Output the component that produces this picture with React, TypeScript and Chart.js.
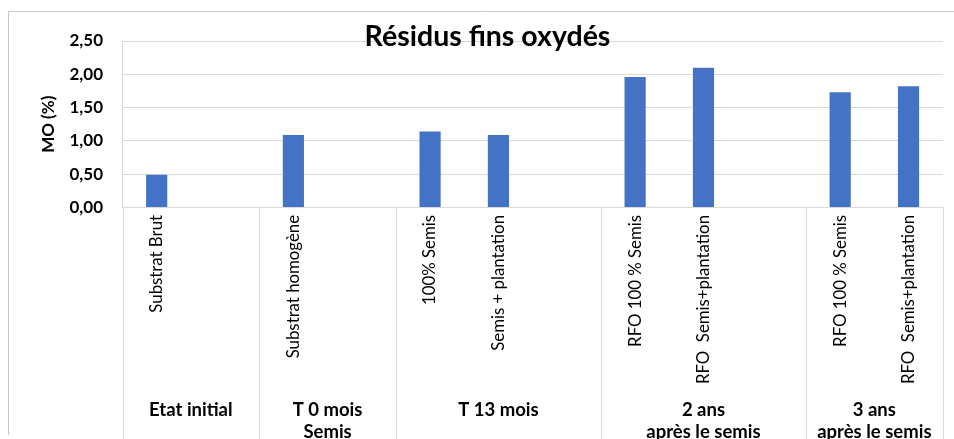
import React, { useEffect, useRef } from "react";
import { Chart, registerables } from "chart.js";

Chart.register(...registerables);

const categories = [
  "Substrat Brut",
  "",
  "Substrat homogène",
  "",
  "100% Semis",
  "Semis + plantation",
  "",
  "RFO 100 % Semis",
  "RFO  Semis+plantation",
  "",
  "RFO 100 % Semis",
  "RFO  Semis+plantation",
];
const moValues = [0.49, null, 1.09, null, 1.14, 1.09, null, 1.96, 2.1, null, 1.73, 1.82];
const yTickLabels = ["0,00", "0,50", "1,00", "1,50", "2,00", "2,50"];
const groupLabels = [
  ["Etat initial"],
  ["T 0 mois", "Semis"],
  ["T 13 mois"],
  ["2 ans", "après le semis"],
  ["3 ans", "après le semis"],
];
const groupStart = [0, 2, 4, 7, 10];
const groupEnd = [1, 3, 6, 9, 11];
const chartTitle = "Résidus fins oxydés";
const yAxisTitle = "MO (%)";

const FONT = "Lato";

const decorPlugin = {
  id: "decor",
  beforeDraw(chart: any) {
    const ctx = chart.ctx;
    ctx.save();
    ctx.strokeStyle = "#c8c8c8";
    ctx.lineWidth = 1;
    ctx.beginPath();
    ctx.moveTo(8.5, chart.height - 4);
    ctx.lineTo(8.5, 11.5);
    ctx.lineTo(chart.width, 11.5);
    ctx.stroke();
    ctx.restore();
  },
  afterDraw(chart: any) {
    const { ctx, chartArea, scales } = chart;
    const x = scales.x;
    const slot = x.getPixelForValue(1) - x.getPixelForValue(0);
    ctx.save();
    ctx.strokeStyle = "#d9d9d9";
    ctx.lineWidth = 1;
    const edges = [
      ...groupStart.map((s) => x.getPixelForValue(s) - slot / 2),
      x.getPixelForValue(groupEnd[groupEnd.length - 1]) + slot / 2,
    ];
    edges.forEach((e) => {
      const px = Math.round(e) + 0.5;
      ctx.beginPath();
      ctx.moveTo(px, chartArea.bottom);
      ctx.lineTo(px, chart.height);
      ctx.stroke();
    });
    ctx.fillStyle = "#000";
    ctx.font = `bold 18.5px ${FONT}`;
    ctx.textAlign = "center";
    ctx.textBaseline = "middle";
    groupLabels.forEach((lines, i) => {
      const cx = (x.getPixelForValue(groupStart[i]) + x.getPixelForValue(groupEnd[i])) / 2;
      lines.forEach((l, j) => ctx.fillText(l, cx, chartArea.bottom + 202.5 + j * 21.7));
    });
    ctx.font = `bold 28.5px ${FONT}`;
    ctx.textBaseline = "alphabetic";
    ctx.fillText(chartTitle, 487.5, 45.5);
    ctx.restore();
  },
};

export default function App() {
  const ref = useRef<HTMLCanvasElement | null>(null);
  useEffect(() => {
    document.body.style.margin = "0";
    if (!ref.current) return;
    const chart = new Chart(ref.current, {
      type: "bar",
      data: {
        labels: categories,
        datasets: [
          {
            data: moValues as any,
            backgroundColor: "#4472C4",
            borderWidth: 0,
            barPercentage: 0.31,
            categoryPercentage: 1,
          },
        ],
      },
      options: {
        responsive: false,
        animation: false,
        devicePixelRatio: 1,
        layout: { padding: { left: 0, top: 41, right: 11.3, bottom: 0 } },
        plugins: {
          legend: { display: false },
          title: { display: false },
          tooltip: { enabled: false },
        },
        scales: {
          x: {
            grid: { display: false, drawTicks: false },
            border: { display: true, color: "#d9d9d9" },
            ticks: {
              autoSkip: false,
              maxRotation: 90,
              minRotation: 90,
              padding: 7.5,
              color: "#000",
              font: { family: FONT, size: 16.8 },
            },
            afterFit(scale: any) {
              scale.height = 231.5;
            },
          },
          y: {
            min: 0,
            max: 2.5,
            grid: { color: "#d9d9d9", drawTicks: false },
            border: { display: true, color: "#d9d9d9" },
            ticks: {
              stepSize: 0.5,
              padding: 19.5,
              color: "#000",
              font: { family: FONT, size: 17, weight: "bold" },
              callback: (_v: any, i: number) => yTickLabels[i],
            },
            title: {
              display: true,
              text: yAxisTitle,
              color: "#000",
              font: { family: FONT, size: 17, weight: "bold" },
              padding: { top: 38.5, bottom: 0 },
            },
            afterFit(scale: any) {
              scale.width = 122.5;
            },
          },
        },
      },
      plugins: [decorPlugin],
    });
    return () => chart.destroy();
  }, []);
  return (
    <div style={{ width: 954, height: 439, overflow: "hidden", background: "#fff" }}>
      <canvas ref={ref} width={954} height={439} style={{ display: "block" }} />
    </div>
  );
}
